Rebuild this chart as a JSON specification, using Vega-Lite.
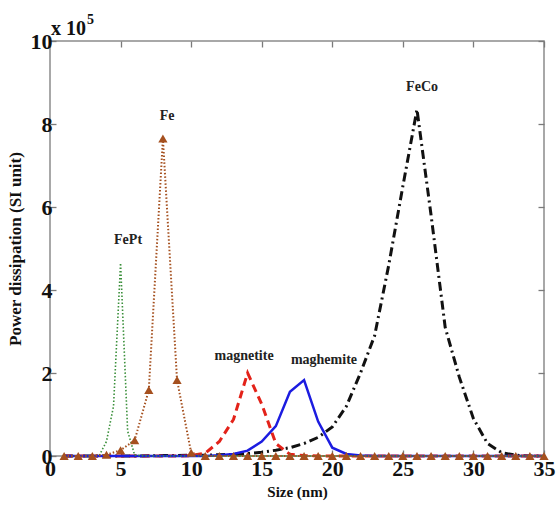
{
  "$schema": "https://vega.github.io/schema/vega-lite/v6.json",
  "width": 494,
  "height": 415,
  "autosize": "none",
  "padding": {"left": 50, "top": 41, "right": 12, "bottom": 52},
  "background": "white",
  "config": {
    "view": {"stroke": "#8c8c8c", "strokeWidth": 1.5},
    "font": "Liberation Serif",
    "axis": {
      "grid": false,
      "domain": false,
      "tickColor": "#7a7a7a",
      "tickSize": -6,
      "tickWidth": 1.3,
      "labelFont": "Liberation Serif",
      "labelFontWeight": "bold",
      "labelFontSize": 22,
      "labelColor": "#111",
      "labelOverlap": false,
      "labelFlush": false,
      "titleFont": "Liberation Serif",
      "titleFontWeight": "bold",
      "titleColor": "#111"
    }
  },
  "datasets": {
    "feco": [
      {"s":1,"p":0},{"s":2,"p":0},{"s":3,"p":0},{"s":4,"p":0},{"s":5,"p":0},{"s":6,"p":0},{"s":7,"p":0.005},{"s":8,"p":0.01},{"s":9,"p":0.01},{"s":10,"p":0.02},
      {"s":11,"p":0.02},{"s":12,"p":0.03},{"s":13,"p":0.04},{"s":14,"p":0.06},{"s":15,"p":0.09},{"s":16,"p":0.14},{"s":17,"p":0.2},{"s":18,"p":0.3},{"s":19,"p":0.45},{"s":20,"p":0.7},
      {"s":21,"p":1.2},{"s":22,"p":2.0},{"s":23,"p":2.9},{"s":24,"p":4.6},{"s":25,"p":6.5},{"s":26,"p":8.35},{"s":27,"p":5.8},{"s":28,"p":3.1},{"s":29,"p":1.9},{"s":30,"p":0.9},
      {"s":31,"p":0.3},{"s":32,"p":0.08},{"s":33,"p":0.02},{"s":34,"p":0},{"s":35,"p":0}
    ],
    "magnetite": [
      {"s":1,"p":0},{"s":2,"p":0},{"s":3,"p":0},{"s":4,"p":0},{"s":5,"p":0},{"s":6,"p":0},{"s":7,"p":0},{"s":8,"p":0},{"s":9,"p":0},{"s":10,"p":0.01},
      {"s":11,"p":0.07},{"s":12,"p":0.35},{"s":13,"p":0.88},{"s":14,"p":2.0},{"s":15,"p":1.25},{"s":16,"p":0.3},{"s":17,"p":0.04},{"s":18,"p":0.01},{"s":19,"p":0},{"s":20,"p":0},
      {"s":21,"p":0},{"s":22,"p":0},{"s":23,"p":0},{"s":24,"p":0},{"s":25,"p":0},{"s":26,"p":0},{"s":27,"p":0},{"s":28,"p":0},{"s":29,"p":0},{"s":30,"p":0},
      {"s":31,"p":0},{"s":32,"p":0},{"s":33,"p":0},{"s":34,"p":0},{"s":35,"p":0}
    ],
    "maghemite": [
      {"s":1,"p":0},{"s":2,"p":0},{"s":3,"p":0},{"s":4,"p":0},{"s":5,"p":0},{"s":6,"p":0},{"s":7,"p":0},{"s":8,"p":0},{"s":9,"p":0},{"s":10,"p":0},
      {"s":11,"p":0},{"s":12,"p":0.02},{"s":13,"p":0.05},{"s":14,"p":0.13},{"s":15,"p":0.35},{"s":16,"p":0.72},{"s":17,"p":1.55},{"s":18,"p":1.83},{"s":19,"p":0.83},{"s":20,"p":0.2},
      {"s":21,"p":0.05},{"s":22,"p":0.01},{"s":23,"p":0},{"s":24,"p":0},{"s":25,"p":0},{"s":26,"p":0},{"s":27,"p":0},{"s":28,"p":0},{"s":29,"p":0},{"s":30,"p":0},
      {"s":31,"p":0},{"s":32,"p":0},{"s":33,"p":0},{"s":34,"p":0},{"s":35,"p":0}
    ],
    "fept": [
      {"s":1,"p":0},{"s":2,"p":0},{"s":3,"p":0},{"s":3.5,"p":0.02},{"s":4,"p":0.35},{"s":4.5,"p":1.2},{"s":5,"p":4.65},{"s":5.5,"p":0.6},{"s":6,"p":0.02},{"s":7,"p":0},
      {"s":8,"p":0},{"s":9,"p":0},{"s":10,"p":0},{"s":11,"p":0},{"s":12,"p":0},{"s":13,"p":0},{"s":14,"p":0},{"s":15,"p":0},{"s":16,"p":0},{"s":17,"p":0},
      {"s":18,"p":0},{"s":19,"p":0},{"s":20,"p":0},{"s":21,"p":0},{"s":22,"p":0},{"s":23,"p":0},{"s":24,"p":0},{"s":25,"p":0},{"s":26,"p":0},{"s":27,"p":0},
      {"s":28,"p":0},{"s":29,"p":0},{"s":30,"p":0},{"s":31,"p":0},{"s":32,"p":0},{"s":33,"p":0},{"s":34,"p":0},{"s":35,"p":0}
    ],
    "fe": [
      {"s":1,"p":0},{"s":2,"p":0},{"s":3,"p":0},{"s":4,"p":0.03},{"s":5,"p":0.14},{"s":6,"p":0.38},{"s":7,"p":1.59},{"s":8,"p":7.65},{"s":9,"p":1.83},{"s":10,"p":0.08},
      {"s":11,"p":0},{"s":12,"p":0},{"s":13,"p":0},{"s":14,"p":0},{"s":15,"p":0},{"s":16,"p":0},{"s":17,"p":0},{"s":18,"p":0},{"s":19,"p":0},{"s":20,"p":0},
      {"s":21,"p":0},{"s":22,"p":0},{"s":23,"p":0},{"s":24,"p":0},{"s":25,"p":0},{"s":26,"p":0},{"s":27,"p":0},{"s":28,"p":0},{"s":29,"p":0},{"s":30,"p":0},
      {"s":31,"p":0},{"s":32,"p":0},{"s":33,"p":0},{"s":34,"p":0},{"s":35,"p":0}
    ],
    "labels": [
      {"s":5.53,"p":5.2,"t":"FePt"},
      {"s":8.29,"p":8.19,"t":"Fe"},
      {"s":13.75,"p":2.41,"t":"magnetite"},
      {"s":19.41,"p":2.31,"t":"maghemite"},
      {"s":26.36,"p":8.89,"t":"FeCo"}
    ]
  },
  "layer": [
    {
      "data": {"name": "feco"},
      "mark": {"type": "line", "color": "#111111", "strokeWidth": 3, "strokeDash": [9, 4, 2, 4]},
      "encoding": {
        "x": {"field": "s", "type": "quantitative", "scale": {"domain": [0, 35], "nice": false},
          "axis": {"orient": "bottom", "values": [0,5,10,15,20,25,30,35], "labelPadding": 8, "title": "Size (nm)", "titleFontSize": 15, "titlePadding": 5}},
        "y": {"field": "p", "type": "quantitative", "scale": {"domain": [0, 10], "nice": false},
          "axis": {"orient": "left", "values": [0,2,4,6,8,10], "labelPadding": 4, "title": "Power dissipation (SI unit)", "titleFontSize": 17, "titlePadding": 6}}
      }
    },
    {
      "data": {"name": "magnetite"},
      "mark": {"type": "line", "color": "#e32219", "strokeWidth": 3, "strokeDash": [8, 5]},
      "encoding": {
        "x": {"field": "s", "type": "quantitative", "axis": {"orient": "top", "values": [0,5,10,15,20,25,30,35], "labels": false, "title": null}},
        "y": {"field": "p", "type": "quantitative", "axis": {"orient": "right", "values": [0,2,4,6,8,10], "labels": false, "title": null}}
      }
    },
    {
      "data": {"name": "maghemite"},
      "mark": {"type": "line", "color": "#1c1ce0", "strokeWidth": 2.5},
      "encoding": {
        "x": {"field": "s", "type": "quantitative", "axis": null},
        "y": {"field": "p", "type": "quantitative", "axis": null}
      }
    },
    {
      "data": {"name": "fept"},
      "mark": {"type": "line", "color": "#3a8f3a", "strokeWidth": 1.6, "strokeDash": [1.5, 2]},
      "encoding": {
        "x": {"field": "s", "type": "quantitative", "axis": null},
        "y": {"field": "p", "type": "quantitative", "axis": null}
      }
    },
    {
      "data": {"name": "fe"},
      "mark": {"type": "line", "color": "#a5501f", "strokeWidth": 2, "strokeDash": [1.5, 2]},
      "encoding": {
        "x": {"field": "s", "type": "quantitative", "axis": null},
        "y": {"field": "p", "type": "quantitative", "axis": null}
      }
    },
    {
      "data": {"name": "fe"},
      "mark": {"type": "point", "shape": "triangle-up", "filled": true, "size": 85, "color": "#a5501f", "opacity": 1},
      "encoding": {
        "x": {"field": "s", "type": "quantitative", "axis": null},
        "y": {"field": "p", "type": "quantitative", "axis": null}
      }
    },
    {
      "data": {"name": "labels"},
      "mark": {"type": "text", "font": "Liberation Serif", "fontWeight": "bold", "fontSize": 14, "color": "#222222", "align": "center", "baseline": "middle"},
      "encoding": {
        "x": {"field": "s", "type": "quantitative", "axis": null},
        "y": {"field": "p", "type": "quantitative", "axis": null},
        "text": {"field": "t"}
      }
    },
    {
      "data": {"values": [{"s": 0, "p": 10, "t": "x 10"}]},
      "mark": {"type": "text", "font": "Liberation Serif", "fontWeight": "bold", "fontSize": 20, "color": "#111111", "align": "left", "baseline": "alphabetic", "dx": 1, "dy": -6},
      "encoding": {
        "x": {"field": "s", "type": "quantitative", "axis": null},
        "y": {"field": "p", "type": "quantitative", "axis": null},
        "text": {"field": "t"}
      }
    },
    {
      "data": {"values": [{"s": 0, "p": 10, "t": "5"}]},
      "mark": {"type": "text", "font": "Liberation Serif", "fontWeight": "bold", "fontSize": 14, "color": "#111111", "align": "left", "baseline": "alphabetic", "dx": 37, "dy": -17},
      "encoding": {
        "x": {"field": "s", "type": "quantitative", "axis": null},
        "y": {"field": "p", "type": "quantitative", "axis": null},
        "text": {"field": "t"}
      }
    }
  ],
  "resolve": {"axis": {"x": "independent", "y": "independent"}}
}
